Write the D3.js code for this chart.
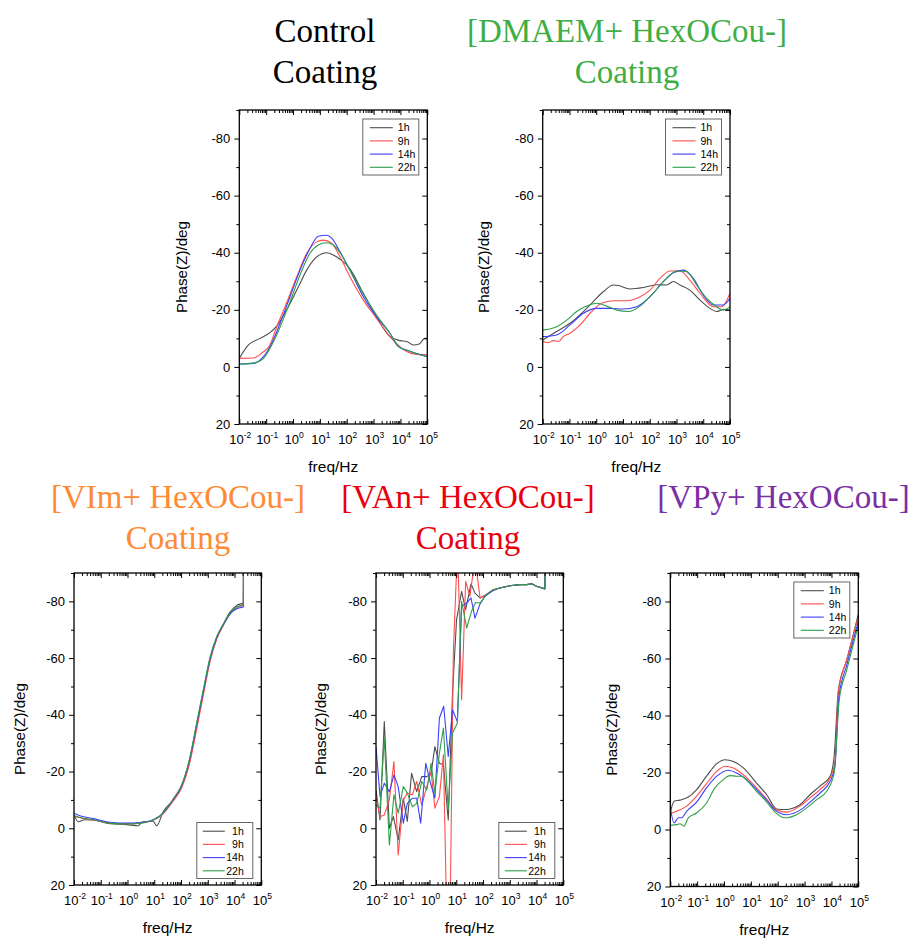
<!DOCTYPE html>
<html><head><meta charset="utf-8">
<script src="https://cdn.jsdelivr.net/npm/d3@7"></script>
<style>body{margin:0;background:#fff} svg{display:block}</style>
</head><body><svg id="c" width="914" height="938"></svg>
<script>
// ---------- DATA (x = log10(freq/Hz), y = Phase(Z)/deg) ----------
const seriesNames = ["1h", "9h", "14h", "22h"];
const seriesColors = ["#4d4d4d", "#ff4d4d", "#3d3dff", "#2e9e4a"];
const xTickExponents = [-2, -1, 0, 1, 2, 3, 4, 5];
const yTickValues = [20, 0, -20, -40, -60, -80];
const yMinorValues = [10, -10, -30, -50, -70, -90];
const yDomain = [-90, 20];

const titles = [
  ["Control", "Coating"],
  ["[DMAEM+ HexOCou-]", "Coating"],
  ["[VIm+ HexOCou-]", "Coating"],
  ["[VAn+ HexOCou-]", "Coating"],
  ["[VPy+ HexOCou-]"]
];
const titleColors = ["#000000", "#3fae45", "#ff8a33", "#e8000b", "#7a2fa5"];

// Control coating
const control1h = [[-2,-3],[-1.66,-7.7],[-1.23,-10],[-0.86,-12],[-0.61,-14.3],[-0.24,-19.9],[0.14,-26.9],[0.51,-33.9],[0.82,-38],[1.25,-40],[1.5,-39.2],[1.75,-37.7],[2.06,-35.1],[2.62,-25.8],[3.11,-17.6],[3.61,-10.6],[3.98,-9.2],[4.23,-8.9],[4.48,-7.7],[4.7,-8],[4.9,-10],[5,-10]];
const control9h = [[-2,-3],[-1.48,-3.1],[-1.17,-4.8],[-0.86,-7.7],[-0.61,-14],[-0.3,-21],[0.14,-31.6],[0.51,-39.8],[0.88,-43.8],[1.13,-44.4],[1.44,-43.3],[1.75,-38.6],[2.12,-31.6],[2.62,-23.4],[3.11,-17],[3.61,-10.6],[4.23,-5.4],[4.6,-4.4],[5,-4.2]];
const control14h = [[-2,-1],[-1.48,-1.2],[-1.1,-3.6],[-0.79,-8.3],[-0.48,-15.3],[-0.11,-24.6],[0.26,-33.9],[0.63,-41.5],[0.94,-45.8],[1.25,-46.1],[1.44,-45.1],[1.75,-40.3],[2.12,-33.9],[2.62,-24.6],[3.11,-17.6],[3.61,-11.8],[3.93,-7],[4.25,-5.8],[4.6,-4.7],[5,-3.6]];
const control22h = [[-2,-1],[-1.45,-1.4],[-1.1,-3],[-0.79,-7.7],[-0.48,-14],[-0.11,-22.8],[0.26,-32.2],[0.63,-39.8],[0.94,-42.7],[1.25,-43.5],[1.5,-42.7],[1.81,-39.2],[2.12,-33.9],[2.68,-24.6],[3.11,-18.2],[3.61,-11.8],[3.93,-7.2],[4.25,-5.8],[4.6,-4.6],[5,-3.6]];

// [DMAEM+ HexOCou-] coating
const dmaem1h = [[-2,-9.4],[-1.48,-12.4],[-0.98,-15.3],[-0.48,-19.4],[-0.11,-22.9],[0.27,-26.4],[0.64,-28.7],[0.83,-28.5],[1.26,-27.3],[1.76,-27.8],[2.26,-28.8],[2.63,-28.7],[2.88,-29.9],[3.13,-28.7],[3.5,-26.9],[3.88,-23.4],[4.25,-20.5],[4.5,-19.4],[4.75,-20.2],[5,-19.9]];
const dmaem9h = [[-2,-8.9],[-1.79,-8.5],[-1.6,-9.2],[-1.41,-8.9],[-1.23,-10.6],[-0.98,-11.8],[-0.6,-14.7],[-0.23,-18.8],[0.2,-22.3],[0.64,-23.2],[1.14,-23.2],[1.51,-24],[2.01,-26.9],[2.38,-31],[2.76,-33.6],[3.13,-33.6],[3.5,-30.4],[3.88,-25.8],[4.38,-21.1],[4.69,-21.1],[5,-25.8]];
const dmaem14h = [[-2,-10.6],[-1.48,-11.2],[-0.98,-14.7],[-0.48,-18.8],[0.02,-20.5],[0.52,-20.5],[1.01,-20.3],[1.51,-21.1],[2.01,-24.6],[2.51,-29.9],[2.88,-33],[3.26,-33.9],[3.63,-31],[4.0,-25.2],[4.38,-21.7],[4.75,-21.7],[5,-24]];
const dmaem22h = [[-2,-12.9],[-1.48,-14.1],[-1.1,-16.4],[-0.73,-19.4],[-0.36,-21.3],[0.02,-22.3],[0.39,-21.3],[0.77,-19.9],[1.2,-19.4],[1.64,-21.3],[2.13,-25.8],[2.63,-31],[3.01,-33.6],[3.38,-33.4],[3.75,-28.7],[4.13,-24],[4.5,-21.1],[4.75,-19.9],[5,-21.1]];

// [VIm+ HexOCou-] coating
const vim1h = [[-2,-4.7],[-1.84,-2.3],[-1.6,-3.0],[-1.28,-2.9],[-0.65,-1.6],[-0.03,-1.3],[0.4,-0.9],[0.55,-2.2],[0.96,-2.5],[1.09,-0.9],[1.34,-5.9],[1.71,-10],[2.02,-14.7],[2.33,-24.1],[2.58,-35.8],[2.83,-47.6],[3.08,-59.3],[3.33,-67],[3.58,-71.9],[3.83,-76.2],[4.08,-78.6],[4.33,-79.5],[4.335,-100]];
const vim9h = [[-2,-4.2],[-1.78,-3.7],[-1.28,-2.9],[-0.65,-1.9],[-0.03,-1.6],[0.47,-1.8],[0.96,-2.8],[1.34,-5.2],[1.71,-9.6],[2.02,-14.2],[2.33,-23.2],[2.58,-34.8],[2.83,-46.8],[3.08,-58.6],[3.33,-66.6],[3.58,-71.5],[3.83,-75.6],[4.08,-77.8],[4.33,-78.7],[4.335,-100]];
const vim14h = [[-2,-5.3],[-1.78,-4.4],[-1.28,-3.4],[-0.65,-2.1],[-0.03,-1.8],[0.47,-2.0],[0.96,-3.0],[1.34,-5.4],[1.71,-10.2],[2.02,-15],[2.33,-24.6],[2.58,-36.4],[2.83,-48.2],[3.08,-59.6],[3.33,-67.1],[3.58,-71.7],[3.83,-75.5],[4.08,-77.4],[4.33,-78.1],[4.335,-100]];
const vim22h = [[-2,-4.5],[-1.78,-3.8],[-1.28,-3.0],[-0.65,-1.8],[-0.03,-1.5],[0.47,-1.8],[0.96,-2.9],[1.34,-5.4],[1.71,-10.4],[2.02,-15.2],[2.33,-25],[2.58,-37],[2.83,-48.8],[3.08,-60.2],[3.33,-67.5],[3.58,-72],[3.83,-75.9],[4.08,-78],[4.33,-79],[4.335,-100]];

// [VAn+ HexOCou-] coating
const van1h = [[-2,-13.5],[-1.85,-2.9],[-1.69,-37.6],[-1.5,0],[-1.35,-4.1],[-1.17,4.1],[-0.98,-10.6],[-0.83,-2.4],[-0.67,-19.4],[-0.48,-12.9],[-0.29,-18.2],[-0.1,-18.2],[0.06,-19.4],[0.2,-28.8],[0.37,-22.9],[0.52,-22.4],[0.7,-2.9],[0.86,-47.6],[1.01,-73.5],[1.2,-83.5],[1.35,-77.1],[1.55,-86.2],[1.7,-82.9],[1.89,-81.2],[2.13,-82.4],[2.38,-84.1],[2.63,-84.7],[3.0,-85.5],[3.38,-85.9],[3.63,-85.9],[3.82,-86.2],[4.0,-85.3],[4.31,-84.4],[4.33,-100]];
const van9h = [[-2,-11.2],[-1.85,-4.1],[-1.69,-4.7],[-1.5,-10],[-1.33,-23.5],[-1.17,9.4],[-0.98,-10],[-0.83,-12.4],[-0.64,-11.8],[-0.48,-16.5],[-0.29,-8.2],[-0.1,-14.7],[0.06,-20],[0.2,-7.1],[0.37,-11.2],[0.52,-25.9],[0.64,30],[0.77,30],[0.89,-62],[1.05,-100],[1.2,-45.3],[1.35,-87],[1.51,-81.8],[1.7,-95],[1.89,-81.2],[2.13,-82.4],[2.38,-84.1],[2.63,-84.7],[3.0,-85.5],[3.38,-85.9],[3.63,-85.9],[3.82,-86.2],[4.0,-85.3],[4.31,-84.4],[4.33,-100]];
const van14h = [[-2,-28.8],[-1.85,-11.2],[-1.69,-15.9],[-1.5,-12.9],[-1.33,-18.8],[-1.17,-14.7],[-0.98,-1.8],[-0.83,-8.8],[-0.64,-10.6],[-0.48,-10.6],[-0.33,-1.8],[-0.14,-22.9],[0.02,-16.5],[0.2,-10.6],[0.37,-38.9],[0.53,-43],[0.7,-25.3],[0.86,-41.8],[1.04,-37.6],[1.2,-78.2],[1.39,-79.4],[1.55,-81.2],[1.7,-74.1],[1.89,-79.1],[2.07,-81.8],[2.38,-83.8],[2.63,-84.7],[3.0,-85.5],[3.38,-85.9],[3.63,-85.9],[3.82,-86.2],[4.0,-85.3],[4.31,-84.4],[4.33,-100]];
const van22h = [[-2,-8.2],[-1.85,-7],[-1.69,-31.8],[-1.5,5.9],[-1.33,-11.8],[-1.17,-5.3],[-0.98,-14.7],[-0.83,-12.4],[-0.64,-7.6],[-0.48,-8.8],[-0.29,-16.5],[-0.1,-13.5],[0.06,-22.9],[0.2,-12.4],[0.37,-26.5],[0.52,-35.3],[0.7,-6.5],[0.86,-33.5],[1.04,-37.1],[1.2,-80],[1.39,-70.6],[1.57,-76.5],[1.72,-79.6],[1.89,-79.4],[2.13,-82.4],[2.38,-84.1],[2.63,-84.7],[3.0,-85.5],[3.38,-85.9],[3.63,-85.9],[3.82,-86.2],[4.0,-85.3],[4.31,-84.4],[4.33,-100]];

// [VPy+ HexOCou-] coating
const vpy1h = [[-2,-5.8],[-1.86,-9.9],[-1.64,-10.3],[-1.33,-11.4],[-1.02,-14],[-0.65,-18.7],[-0.27,-23.1],[0.04,-24.5],[0.35,-23.9],[0.72,-21.6],[1.21,-16.3],[1.59,-12.2],[1.96,-7.2],[2.27,-7],[2.46,-7.2],[2.83,-8.7],[3.2,-12.2],[3.57,-15.2],[3.95,-18.7],[4.1,-25.7],[4.26,-49],[4.57,-59.5],[5,-75.5]];
const vpy9h = [[-2,-5.6],[-1.76,-6.4],[-1.39,-8.2],[-1.02,-11.7],[-0.65,-16.1],[-0.27,-20.4],[0.04,-22.2],[0.35,-21.6],[0.72,-19.2],[1.21,-14.6],[1.59,-10.7],[1.96,-6.8],[2.33,-6.1],[2.83,-8.2],[3.2,-11.1],[3.57,-14],[3.95,-18.1],[4.13,-23.9],[4.26,-48.4],[4.57,-59.5],[5,-74.6]];
const vpy14h = [[-2,-7.6],[-1.86,-2.3],[-1.7,-4.1],[-1.58,-4.1],[-1.39,-6.4],[-1.02,-9.6],[-0.65,-14.6],[-0.27,-18.7],[0.16,-20.8],[0.47,-19.8],[0.84,-17.5],[1.21,-14],[1.59,-10.3],[1.9,-6.8],[2.33,-5.2],[2.83,-6.8],[3.2,-9.6],[3.57,-12.8],[3.95,-16.9],[4.13,-22.2],[4.28,-46.6],[4.57,-57.7],[5,-72.9]];
const vpy22h = [[-2,-1.5],[-1.76,-1.7],[-1.64,-2],[-1.49,-1.2],[-1.33,-4.1],[-1.02,-5.8],[-0.65,-9.3],[-0.34,-14.6],[-0.03,-17.5],[0.22,-18.9],[0.47,-18.7],[0.66,-18.7],[0.84,-17.3],[1.21,-13.4],[1.59,-9.6],[1.9,-6.1],[2.27,-4.1],[2.7,-5.2],[3.08,-7.6],[3.45,-10.5],[3.82,-13.4],[4.1,-19.8],[4.29,-45.5],[4.57,-56],[5,-71.7]];

// ---------- LAYOUT ----------
const panels = [
  {t:0, x0:239.3, x1:427.3, y0:110, y1:424, tx:325, ty:42, ylab:57.6, leg:"tr", curve:"smooth",
   data:[control1h, control9h, control14h, control22h]},
  {t:1, x0:542.7, x1:730, y0:110, y1:424, tx:627, ty:42, ylab:58.7, leg:"tr", curve:"smooth",
   data:[dmaem1h, dmaem9h, dmaem14h, dmaem22h]},
  {t:2, x0:74, x1:261.3, y0:573, y1:885, tx:178, ty:508, ylab:53.7, leg:"br", curve:"smooth",
   data:[vim1h, vim9h, vim14h, vim22h]},
  {t:3, x0:376, x1:563.3, y0:573, y1:885, tx:468, ty:508, ylab:55.3, leg:"br", curve:"linear",
   data:[van1h, van9h, van14h, van22h]},
  {t:4, x0:670.3, x1:858.3, y0:573, y1:886.5, tx:783.5, ty:508, ylab:58.6, leg:"tr", curve:"smooth",
   data:[vpy1h, vpy9h, vpy14h, vpy22h]}
];

const svg = d3.select("#c");
const sansFont = "'Liberation Sans', Arial, Helvetica, sans-serif";
const serifFont = "'Liberation Serif', 'Times New Roman', serif";

panels.forEach((p, pi) => {
  const g = svg.append("g");
  const x = d3.scaleLog().domain([1e-2, 1e5]).range([p.x0, p.x1]);
  const y = d3.scaleLinear().domain(yDomain).range([p.y0, p.y1]);

  // Title
  const tt = g.append("text").attr("x", p.tx).attr("y", p.ty)
    .attr("text-anchor", "middle").attr("font-family", serifFont)
    .attr("font-size", 33).attr("fill", titleColors[p.t]);
  titles[p.t].forEach((line, i) => {
    tt.append("tspan").attr("x", p.tx).attr("dy", i === 0 ? 0 : 41).text(line);
  });

  // clip
  const cid = "clip" + pi;
  svg.append("clipPath").attr("id", cid).append("rect")
    .attr("x", p.x0).attr("y", p.y0).attr("width", p.x1 - p.x0).attr("height", p.y1 - p.y0);

  // Curves
  const line = d3.line()
    .x(d => x(Math.pow(10, d[0])))
    .y(d => y(d[1]))
    .curve(p.curve === "smooth" ? d3.curveMonotoneX : d3.curveLinear);
  const cg = g.append("g").attr("clip-path", `url(#${cid})`);
  p.data.forEach((s, si) => {
    cg.append("path").datum(s).attr("d", line)
      .attr("fill", "none").attr("stroke", seriesColors[si])
      .attr("stroke-width", 1.1).attr("stroke-linejoin", "round");
  });

  // Axes
  const decades = xTickExponents.map(e => Math.pow(10, e));
  const minors = [];
  xTickExponents.slice(0, -1).forEach(e => { for (let k = 2; k <= 9; k++) minors.push(k * Math.pow(10, e)); });

  const styleAxis = sel => {
    sel.select(".domain").remove();
    sel.selectAll("line").attr("stroke", "#000").attr("stroke-width", 1);
  };

  // left (outward)
  g.append("g").attr("transform", `translate(${p.x0},0)`)
    .call(d3.axisLeft(y).tickValues(yTickValues).tickSize(5).tickPadding(4).tickFormat(d => String(d)))
    .call(styleAxis)
    .call(s => s.selectAll("text").attr("font-family", sansFont).attr("font-size", 13).attr("fill", "#000"));
  g.append("g").attr("transform", `translate(${p.x0},0)`)
    .call(d3.axisLeft(y).tickValues(yMinorValues).tickSize(3).tickFormat(""))
    .call(styleAxis);
  // right (inward)
  g.append("g").attr("transform", `translate(${p.x1},0)`)
    .call(d3.axisLeft(y).tickValues(yTickValues).tickSize(5).tickFormat(""))
    .call(styleAxis);
  g.append("g").attr("transform", `translate(${p.x1},0)`)
    .call(d3.axisLeft(y).tickValues(yMinorValues).tickSize(3).tickFormat(""))
    .call(styleAxis);
  // top (inward)
  g.append("g").attr("transform", `translate(0,${p.y0})`)
    .call(d3.axisBottom(x).tickValues(decades).tickSize(5).tickFormat(""))
    .call(styleAxis);
  g.append("g").attr("transform", `translate(0,${p.y0})`)
    .call(d3.axisBottom(x).tickValues(minors).tickSize(3).tickFormat(""))
    .call(styleAxis);
  // bottom (inward)
  g.append("g").attr("transform", `translate(0,${p.y1})`)
    .call(d3.axisTop(x).tickValues(decades).tickSize(5).tickFormat(""))
    .call(styleAxis);
  g.append("g").attr("transform", `translate(0,${p.y1})`)
    .call(d3.axisTop(x).tickValues(minors).tickSize(3).tickFormat(""))
    .call(styleAxis);

  // bottom tick labels 10^n
  xTickExponents.forEach(e => {
    const t = g.append("text").attr("x", x(Math.pow(10, e)) + 1).attr("y", p.y1 + 20)
      .attr("text-anchor", "middle").attr("font-family", sansFont)
      .attr("font-size", 13).attr("fill", "#000");
    t.append("tspan").text("10");
    t.append("tspan").attr("font-size", 8.5).attr("dy", -6).text(String(e));
  });

  // frame
  g.append("rect").attr("x", p.x0).attr("y", p.y0)
    .attr("width", p.x1 - p.x0).attr("height", p.y1 - p.y0)
    .attr("fill", "none").attr("stroke", "#000").attr("stroke-width", 1.3);

  // axis titles
  g.append("text").attr("x", (p.x0 + p.x1) / 2).attr("y", p.y1 + 48)
    .attr("text-anchor", "middle").attr("font-family", sansFont)
    .attr("font-size", 15.5).attr("fill", "#000").text("freq/Hz");
  const yc = (p.y0 + p.y1) / 2;
  g.append("text")
    .attr("transform", `translate(${p.x0 - p.ylab + 5},${yc}) rotate(-90)`)
    .attr("text-anchor", "middle").attr("font-family", sansFont)
    .attr("font-size", 15.2).attr("fill", "#000").text("Phase(Z)/deg");

  // legend
  const lw = 56, lh = 56;
  const lx = p.x1 - 8.5 - lw;
  const ly = p.leg === "tr" ? p.y0 + 9 : p.y1 - 6.5 - lh;
  const rightAligned = p.leg === "br";
  const lg = g.append("g").attr("transform", `translate(${lx},${ly})`);
  lg.append("rect").attr("width", lw).attr("height", lh)
    .attr("fill", "#fff").attr("stroke", "#666").attr("stroke-width", 1);
  seriesNames.forEach((n, i) => {
    const yy = 8.7 + i * 13.2;
    lg.append("line").attr("x1", rightAligned ? 6 : 7).attr("x2", rightAligned ? 28 : 30)
      .attr("y1", yy).attr("y2", yy)
      .attr("stroke", seriesColors[i]).attr("stroke-width", 1.1);
    lg.append("text").attr("x", rightAligned ? lw - 9 : 35).attr("y", yy + 3.7)
      .attr("text-anchor", rightAligned ? "end" : "start")
      .attr("font-family", sansFont).attr("font-size", 10.5).attr("fill", "#000").text(n);
  });
});
</script>
</body></html>
